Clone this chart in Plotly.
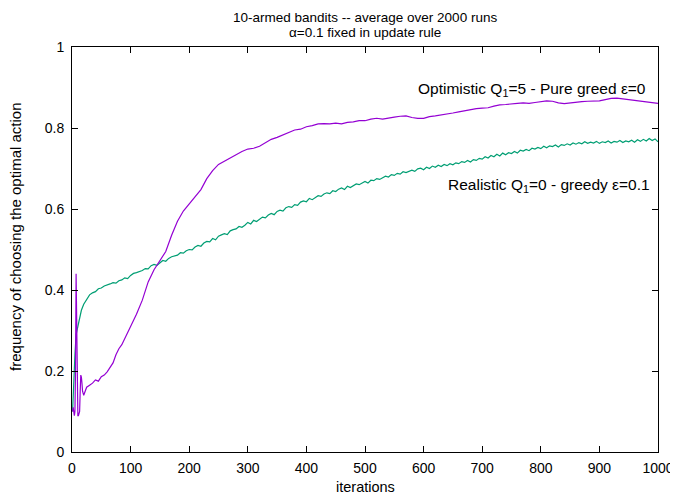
import plotly.graph_objects as go

# Realistic Q1=0, epsilon-greedy 0.1 (green) -- iterations and values
green_x = [1, 2, 3, 5, 7, 10, 13, 16, 20, 25] + list(range(30, 1001, 5))
green_y = [0.10, 0.15, 0.19, 0.24, 0.29, 0.31, 0.33, 0.35, 0.365, 0.378,
           0.388, 0.393, 0.396, 0.403, 0.405, 0.41, 0.412, 0.415, 0.418, 0.417,
           0.423, 0.425, 0.43, 0.428, 0.436, 0.441, 0.443, 0.445, 0.448, 0.453,
           0.452, 0.46, 0.463, 0.461, 0.468, 0.473, 0.471, 0.478, 0.482, 0.484,
           0.486, 0.492, 0.491, 0.497, 0.5, 0.499, 0.506, 0.51, 0.508, 0.516,
           0.52, 0.519, 0.527, 0.524, 0.533, 0.536, 0.539, 0.537, 0.546, 0.549,
           0.551, 0.557, 0.555, 0.56, 0.567, 0.563, 0.572, 0.569, 0.575, 0.58,
           0.578, 0.585, 0.589, 0.586, 0.594, 0.597, 0.595, 0.603, 0.606, 0.604,
           0.611, 0.609, 0.617, 0.62, 0.618, 0.626, 0.623, 0.629, 0.633, 0.631,
           0.637, 0.64, 0.638, 0.645, 0.643, 0.649, 0.652, 0.648, 0.656, 0.653,
           0.658, 0.662, 0.66, 0.665, 0.668, 0.664, 0.671, 0.67, 0.675, 0.673,
           0.678, 0.681, 0.679, 0.685, 0.683, 0.688, 0.686, 0.692, 0.69, 0.694,
           0.696, 0.693, 0.699, 0.701, 0.697, 0.703, 0.7, 0.706, 0.703, 0.708,
           0.705, 0.71, 0.707, 0.712, 0.709, 0.714, 0.712, 0.717, 0.715, 0.72,
           0.716, 0.722, 0.72, 0.725, 0.723, 0.729, 0.726, 0.732, 0.729, 0.735,
           0.731, 0.738, 0.734, 0.739, 0.737, 0.742, 0.738, 0.745, 0.743, 0.747,
           0.744, 0.75, 0.748, 0.752, 0.749, 0.755, 0.751, 0.756, 0.754, 0.758,
           0.753, 0.759, 0.757, 0.761, 0.758, 0.763, 0.76, 0.764, 0.761, 0.766,
           0.762, 0.765, 0.763, 0.767, 0.762, 0.766, 0.764, 0.768, 0.763, 0.767,
           0.765, 0.769, 0.764, 0.768, 0.766, 0.77, 0.765, 0.771, 0.767, 0.772,
           0.768, 0.774, 0.769, 0.773, 0.766]

# Optimistic Q1=5, pure greedy (purple)
purple_x = [1, 2, 3, 4, 5, 6, 7, 8, 9, 10, 11, 12, 13, 14, 15, 16, 17, 18, 20,
            22, 25, 30, 35, 40, 45, 50, 55, 60, 65, 70, 75, 80, 85, 90, 95] + \
           list(range(100, 1001, 10))
purple_y = [0.10, 0.11, 0.10, 0.09, 0.10, 0.20, 0.44, 0.30, 0.10, 0.09, 0.09,
            0.095, 0.10, 0.15, 0.19, 0.185, 0.17, 0.15, 0.14, 0.15, 0.16, 0.165,
            0.17, 0.178, 0.175, 0.186, 0.19, 0.198, 0.21, 0.22, 0.24, 0.255,
            0.265, 0.28, 0.295, 0.31, 0.34, 0.375, 0.42, 0.45, 0.474, 0.495,
            0.535, 0.57, 0.595, 0.612, 0.63, 0.648, 0.675, 0.695, 0.71, 0.718,
            0.725, 0.735, 0.742, 0.748, 0.75, 0.755, 0.764, 0.772, 0.777, 0.783,
            0.79, 0.795, 0.797, 0.803, 0.806, 0.81, 0.811, 0.81, 0.812, 0.81,
            0.814, 0.815, 0.818, 0.818, 0.822, 0.824, 0.822, 0.825, 0.827, 0.829,
            0.83, 0.826, 0.824, 0.824, 0.828, 0.83, 0.832, 0.835, 0.837, 0.84,
            0.843, 0.846, 0.848, 0.849, 0.85, 0.854, 0.857, 0.858, 0.86, 0.861,
            0.862, 0.861, 0.863, 0.865, 0.867, 0.866, 0.862, 0.86, 0.862, 0.864,
            0.865, 0.866, 0.867, 0.867, 0.87, 0.873, 0.874, 0.872, 0.87, 0.868,
            0.866, 0.864, 0.862, 0.861]

x_ticks = [0, 100, 200, 300, 400, 500, 600, 700, 800, 900, 1000]
y_ticks = [0, 0.2, 0.4, 0.6, 0.8, 1]

FONT = "Liberation Sans, Arial, sans-serif"

fig = go.Figure()
fig.add_trace(go.Scatter(x=green_x, y=green_y, mode="lines",
                         line=dict(color="#009E73", width=1.2), showlegend=False))
fig.add_trace(go.Scatter(x=purple_x, y=purple_y, mode="lines",
                         line=dict(color="#9400D3", width=1.2), showlegend=False))

axis_common = dict(showline=True, linecolor="black", linewidth=1, mirror="ticks",
                   ticks="inside", ticklen=6, tickcolor="black", showgrid=False,
                   zeroline=False, automargin=False,
                   tickfont=dict(family=FONT, size=14, color="black"))

fig.update_xaxes(range=[0, 1000], tickvals=x_ticks, ticklabelstandoff=3, **axis_common)
fig.update_yaxes(range=[0, 1], tickvals=y_ticks, ticklabelstandoff=4, **axis_common)

# page body has an 8px margin, so the figure is shifted by 8px; sizes compensate
fig.update_layout(
    width=670, height=488,
    margin=dict(l=64, r=20, t=39, b=44, autoexpand=False),
    plot_bgcolor="white", paper_bgcolor="white",
    font=dict(family=FONT, size=14, color="black"),
    annotations=[
        dict(text="10-armed bandits -- average over 2000 runs",
             xref="paper", yref="paper", x=0.5, y=1.0, yshift=30, xanchor="center",
             yanchor="middle", showarrow=False, font=dict(family=FONT, size=13.5)),
        dict(text="α=0.1 fixed in update rule",
             xref="paper", yref="paper", x=0.5, y=1.0, yshift=15, xanchor="center",
             yanchor="middle", showarrow=False, font=dict(family=FONT, size=13.5)),
        dict(text="iterations",
             xref="paper", yref="paper", x=0.5, y=0.0, yshift=-35, xanchor="center",
             yanchor="middle", showarrow=False, font=dict(family=FONT, size=14.5)),
        dict(text="frequency of choosing the optimal action",
             xref="paper", yref="paper", x=0.0, y=0.531, xshift=-56, xanchor="center",
             yanchor="middle", textangle=-90, showarrow=False,
             font=dict(family=FONT, size=15)),
        dict(text="Optimistic Q<sub>1</sub>=5 - Pure greed ε=0",
             xref="x", yref="y", x=983, y=0.894, xanchor="right", yanchor="middle",
             showarrow=False, font=dict(family=FONT, size=15.5)),
        dict(text="Realistic Q<sub>1</sub>=0 - greedy ε=0.1",
             xref="x", yref="y", x=990, y=0.657, xanchor="right", yanchor="middle",
             showarrow=False, font=dict(family=FONT, size=15.5)),
    ],
)

fig.write_html("out.html")
